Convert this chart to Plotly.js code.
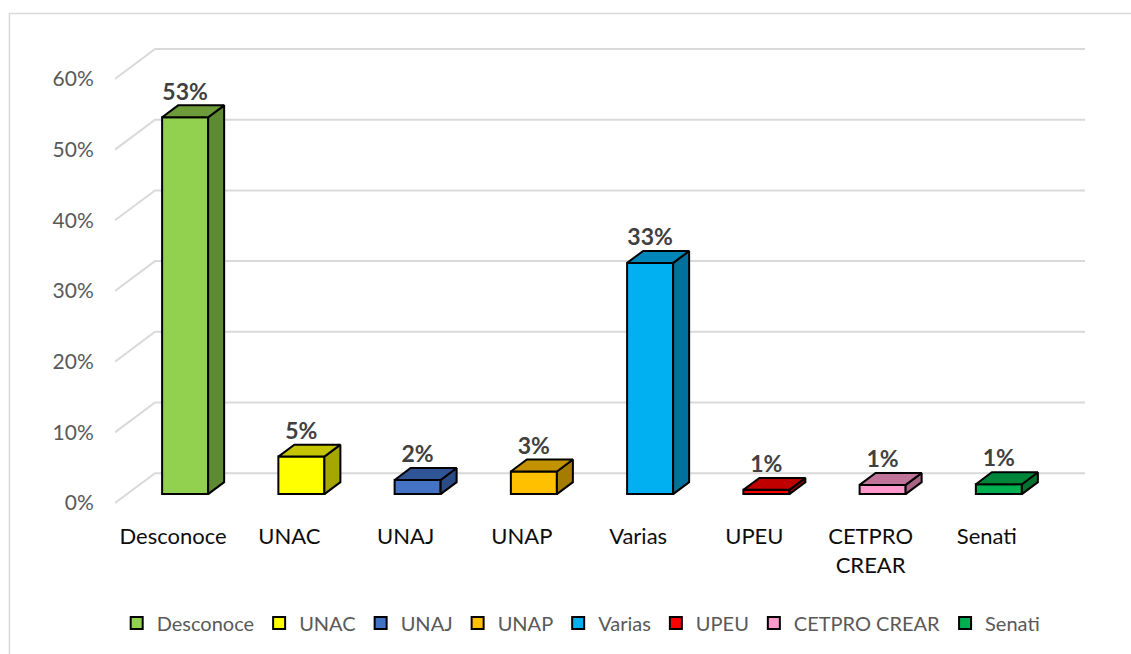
<!DOCTYPE html>
<html>
<head>
<meta charset="utf-8">
<script src="https://cdn.plot.ly/plotly-3.0.1.min.js"></script>
<style>html,body{margin:0;padding:0;background:#fff;}#chart{width:1131px;height:654px;}</style>
</head>
<body>
<div id="chart"></div>
<script>
// ---- data ----
const categories = ['Desconoce','UNAC','UNAJ','UNAP','Varias','UPEU','CETPRO CREAR','Senati'];
const values = [53.3, 5.3, 2.0, 3.2, 32.7, 0.6, 1.3, 1.4];
const tickLabels = ['Desconoce','UNAC','UNAJ','UNAP','Varias','UPEU','CETPRO<br>CREAR','Senati'];
const frontColors = ['#92d050','#ffff00','#4472c4','#ffc000','#00b0f0','#ff0000','#ff99cc','#00b050'];
const topColors   = ['#6e9b3a','#c4c400','#2f5597','#c49200','#0086b8','#c00000','#c0749a','#008638'];
const sideColors  = ['#5e8a32','#a6a600','#2a4b85','#a67c00','#00719c','#a30000','#a86386','#00722f'];
const yTicks = [0,10,20,30,40,50,60];
const yTickText = ['0%','10%','20%','30%','40%','50%','60%'];

// ---- geometry (pixel scales of the pseudo-3D look) ----
const W = 1131, H = 654;
const CU = 116.2;          // px per category
const PY = 7.1;            // px per percent
const DX = 40 / CU;        // depth vector, data units
const DY = 30 / PY;
const ML = 115, MT = 40;
const plotW = (categories.length + DX) * CU;
const yMin = -0.7, yMax = 65.5;
const plotH = (yMax - yMin) * PY;
const MR = W - ML - plotW, MB = H - MT - plotH;
const barHalf = 23 / CU;
const f0 = 0.3, fd = 0.4;  // bar front depth fraction, bar depth fraction
const xMin = -0.5, xMax = categories.length - 0.5 + DX;

const FONT = 'Lato, "Open Sans", sans-serif';
const traces = [];

// front faces (bars, also legend entries)
categories.forEach((c, i) => {
  traces.push({
    type: 'bar', name: c, x: [i + f0 * DX], y: [values[i]], base: [f0 * DY],
    width: [2 * barHalf],
    marker: {color: frontColors[i], line: {color: '#000000', width: 2}},
    hoverinfo: 'skip', showlegend: true
  });
});

// side and top faces
categories.forEach((c, i) => {
  const xl = i + f0 * DX - barHalf, xr = i + f0 * DX + barHalf;
  const yb = f0 * DY, yt = f0 * DY + values[i];
  const ddx = fd * DX, ddy = fd * DY;
  traces.push({
    type: 'scatter', mode: 'lines', fill: 'toself', fillcolor: sideColors[i],
    x: [xr, xr + ddx, xr + ddx, xr, xr], y: [yb, yb + ddy, yt + ddy, yt, yb],
    line: {color: '#000000', width: 2}, showlegend: false, hoverinfo: 'skip', cliponaxis: false
  });
  traces.push({
    type: 'scatter', mode: 'lines', fill: 'toself', fillcolor: topColors[i],
    x: [xl, xr, xr + ddx, xl + ddx, xl], y: [yt, yt, yt + ddy, yt + ddy, yt],
    line: {color: '#000000', width: 2}, showlegend: false, hoverinfo: 'skip', cliponaxis: false
  });
});

// data labels
traces.push({
  type: 'scatter', mode: 'text',
  x: categories.map((c, i) => i + f0 * DX),
  y: values.map(v => v + (f0 + fd) * DY),
  text: values.map(v => Math.round(v) + '%'),
  textposition: 'top center',
  textfont: {family: FONT, size: 23, color: '#404040', weight: 'bold'},
  showlegend: false, hoverinfo: 'skip', cliponaxis: false
});

// 3D gridlines (left wall diagonal + back wall)
const shapes = [];
yTicks.forEach(v => {
  shapes.push({type: 'path', xref: 'x', yref: 'y', layer: 'below',
    path: `M${xMin},${v} L${xMin + DX},${v + DY} L${xMax},${v + DY}`,
    line: {color: '#d9d9d9', width: 2}});
});
// outer chart border
const px2x = p => (p - ML) / plotW, px2y = p => 1 - (p - MT) / plotH;
shapes.push({type: 'rect', xref: 'paper', yref: 'paper', layer: 'above',
  x0: px2x(9.5), x1: px2x(1145), y0: px2y(13.5), y1: px2y(665),
  line: {color: '#d9d9d9', width: 1.5}, fillcolor: 'rgba(0,0,0,0)'});

const layout = {
  width: W, height: H,
  margin: {l: ML, r: MR, t: MT, b: MB, pad: 0},
  paper_bgcolor: '#ffffff', plot_bgcolor: 'rgba(0,0,0,0)',
  barmode: 'overlay', showlegend: true,
  font: {family: FONT},
  xaxis: {range: [xMin, xMax], tickvals: categories.map((c, i) => i), ticktext: tickLabels,
    showgrid: false, zeroline: false, showline: false, fixedrange: true,
    ticks: 'outside', ticklen: 9, tickcolor: 'rgba(0,0,0,0)',
    tickfont: {family: FONT, size: 22, color: '#0d0d0d'}},
  yaxis: {range: [yMin, yMax], tickvals: yTicks, ticktext: yTickText,
    showgrid: false, zeroline: false, showline: false, fixedrange: true,
    ticks: 'outside', ticklen: 16, tickcolor: 'rgba(0,0,0,0)',
    tickfont: {family: FONT, size: 21, color: '#595959'}},
  legend: {orientation: 'h', x: px2x(581), xanchor: 'center', y: px2y(606), yanchor: 'top',
    font: {family: FONT, size: 20, color: '#595959'}, traceorder: 'normal',
    bgcolor: 'rgba(0,0,0,0)'},
  shapes: shapes
};

Plotly.newPlot('chart', traces, layout, {staticPlot: true, displayModeBar: false});
</script>
</body>
</html>
